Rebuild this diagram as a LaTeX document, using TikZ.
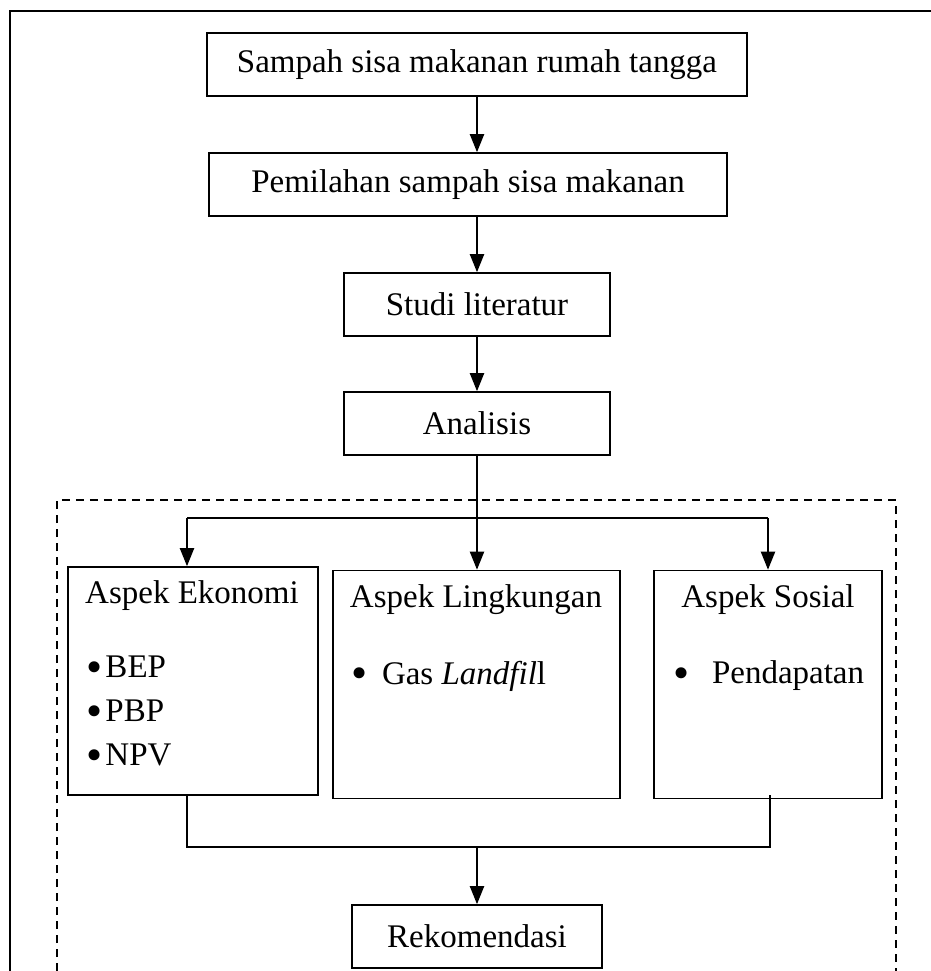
\documentclass[tikz,border=0pt]{standalone}
\usepackage{fontspec}
\setmainfont{Liberation Serif}
\usetikzlibrary{arrows.meta, positioning}

% larger bullet, same width as \textbullet
\newcommand{\titik}{\makebox[5.8pt]{\raisebox{-2.2pt}{\fontsize{23}{23}\selectfont\textbullet}}}

\begin{document}
\begin{tikzpicture}[
    x=0.5pt, y=-0.5pt,
    font=\fontsize{16.5}{22}\selectfont,
    >={Triangle[width=7pt,length=9pt]},
    kotak/.style={draw, line width=0.8pt, inner sep=0pt, minimum height=31.5pt},
    aspek/.style={draw, line width=0.8pt, inner sep=0pt, minimum height=114pt},
    teks/.style={inner sep=0pt, anchor=west, align=left},
    panah/.style={->, line width=1pt},
    garis/.style={line width=1pt}
]

    % Parameters
    \def\cabY{518}
    \def\gabY{847}

    \useasboundingbox (0,0) rectangle (931,971);

    % 1. Outer frame (open at right and bottom)
    \draw[line width=1.2pt] (10,971) -- (10,11) -- (931,11);

    % Dashed area round the aspects
    \draw[dashed, line width=0.75pt, dash pattern=on 4pt off 3pt] (57,971) -- (57,500) -- (896,500) -- (896,971);

    % 2. Main flow
    \node[kotak, minimum width=270pt] (sampah) at (477,64.5) {Sampah sisa makanan rumah tangga};
    \node[kotak, minimum width=259pt] (pemilahan) at (468,184.5) {Pemilahan sampah sisa makanan};
    \node[kotak, minimum width=133pt] (studi) at (477,304.5) {Studi literatur};
    \node[kotak, minimum width=133pt] (analisis) at (477,423.5) {Analisis};

    \draw[panah] (sampah.south) -- (sampah.south |- pemilahan.north);
    \draw[panah] (sampah.south |- pemilahan.south) -- (studi.north);
    \draw[panah] (studi) -- (analisis);

    % 3. Aspects
    \node[aspek, minimum width=125pt] (eko) at (193,681) {};
    \node[aspek, minimum width=143.5pt] (ling) at (476.5,684.5) {};
    \node[aspek, minimum width=114pt] (sos) at (768,684.5) {};

    \node[inner sep=0pt] (ekoJudul) at (192,596) {Aspek Ekonomi};
    \node[inner sep=0pt] (lingJudul) at (476,600) {Aspek Lingkungan};
    \node[inner sep=0pt] (sosJudul) at (768,600) {Aspek Sosial};

    \node[teks] (ekoIsi) at (88,713) {\titik\,BEP\\\titik\,PBP\\\titik\,NPV};
    \node[teks] (lingIsi) at (353,676) {\titik\hspace{8.5pt}Gas \textit{Landfil}l};
    \node[teks] (sosIsi) at (675,676) {\titik\hspace{12.5pt}Pendapatan};

    % Branching from Analisis
    \coordinate (cabL) at (187,\cabY);
    \coordinate (cabR) at (768,\cabY);
    \coordinate (cabM) at (analisis.south |- cabL);
    \draw[garis] (analisis.south) -- (cabM);
    \draw[garis] (cabL) -- (cabR);
    \draw[panah] (cabL) -- (cabL |- eko.north);
    \draw[panah] (cabM) -- (cabM |- ling.north);
    \draw[panah] (cabR) -- (cabR |- sos.north);

    % 4. Joining to Rekomendasi
    \node[kotak, minimum width=125pt] (rek) at (477,936.5) {Rekomendasi};

    \coordinate (gabL) at (187,\gabY);
    \coordinate (gabR) at (770,\gabY);
    \draw[garis] (gabL |- eko.south) -- (gabL) -- (gabR) -- ([yshift=2pt]gabR |- sos.south);
    \draw[panah] (gabL -| rek.north) -- (rek.north);

\end{tikzpicture}
\end{document}
